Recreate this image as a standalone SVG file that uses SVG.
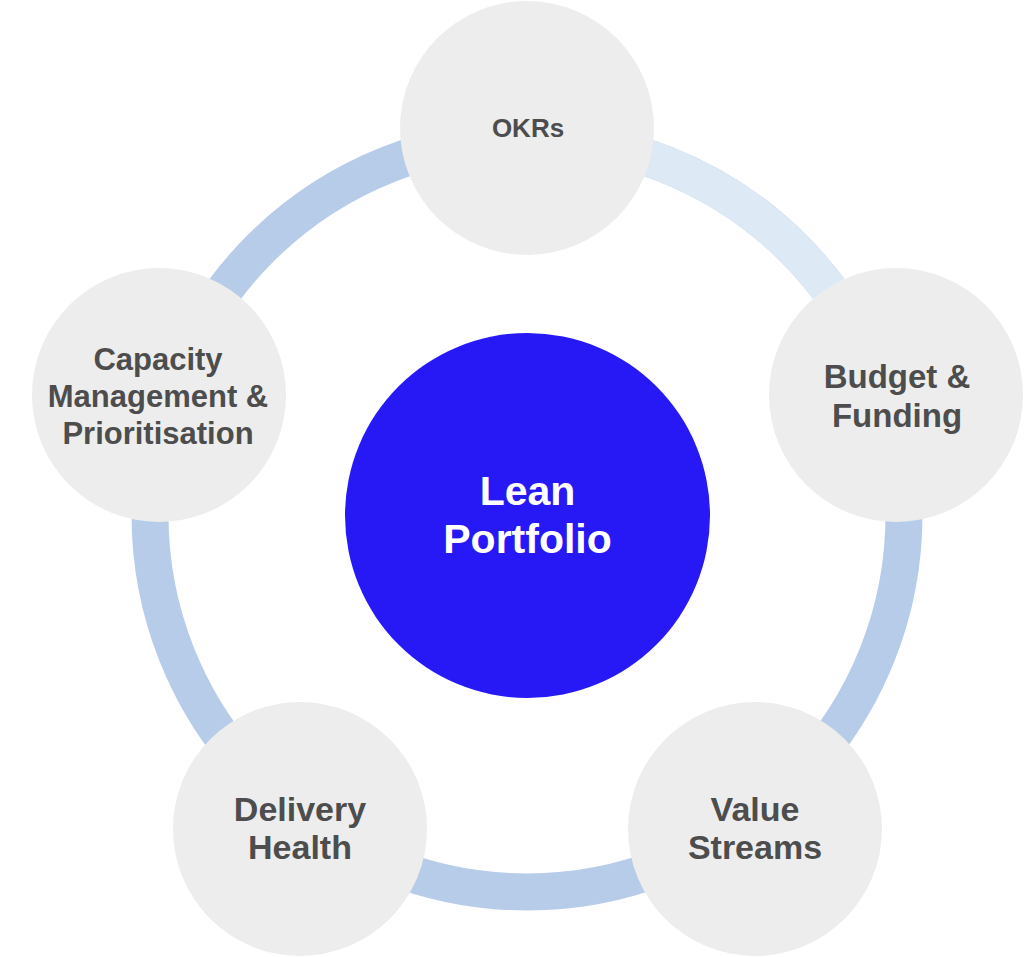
<svg xmlns="http://www.w3.org/2000/svg" width="1024" height="957" viewBox="0 0 1024 957">
<style>
.node{fill:#EDEDED}
.lbl{font-family:"Liberation Sans",Arial,sans-serif;font-weight:bold;fill:#4D4D4D;text-anchor:middle}
.ctr{font-family:"Liberation Sans",Arial,sans-serif;font-weight:bold;fill:#FFFFFF;text-anchor:middle;font-size:41px}
</style>
<rect width="1024" height="957" fill="#FFFFFF"/>
<g id="connectors" fill="none" stroke-width="37">
<circle cx="527" cy="515" r="377" stroke="#B7CCE8"/>
<path d="M 527 138 A 377 377 0 0 1 885.5 398.5" stroke="#DEE9F6"/>
</g>
<g id="center">
<circle cx="527.5" cy="515.5" r="182.5" fill="#2719F5"/>
<text class="ctr" x="527.5" y="505">Lean</text>
<text class="ctr" x="527.5" y="553">Portfolio</text>
</g>
<g id="okrs">
<circle class="node" cx="527" cy="128" r="127"/>
<text class="lbl" x="528" y="137" font-size="26">OKRs</text>
</g>
<g id="budget">
<circle class="node" cx="896" cy="395" r="127"/>
<text class="lbl" x="897" y="388" font-size="33">Budget &amp;</text>
<text class="lbl" x="897" y="427" font-size="33">Funding</text>
</g>
<g id="value-streams">
<circle class="node" cx="755" cy="829" r="127"/>
<text class="lbl" x="755" y="821" font-size="34">Value</text>
<text class="lbl" x="755" y="859" font-size="34">Streams</text>
</g>
<g id="delivery-health">
<circle class="node" cx="300" cy="829" r="127"/>
<text class="lbl" x="300" y="821" font-size="34">Delivery</text>
<text class="lbl" x="300" y="859" font-size="34">Health</text>
</g>
<g id="capacity">
<circle class="node" cx="159" cy="395" r="127"/>
<text class="lbl" x="158" y="370" font-size="31">Capacity</text>
<text class="lbl" x="158" y="407" font-size="31">Management &amp;</text>
<text class="lbl" x="158" y="444" font-size="31">Prioritisation</text>
</g>
</svg>
